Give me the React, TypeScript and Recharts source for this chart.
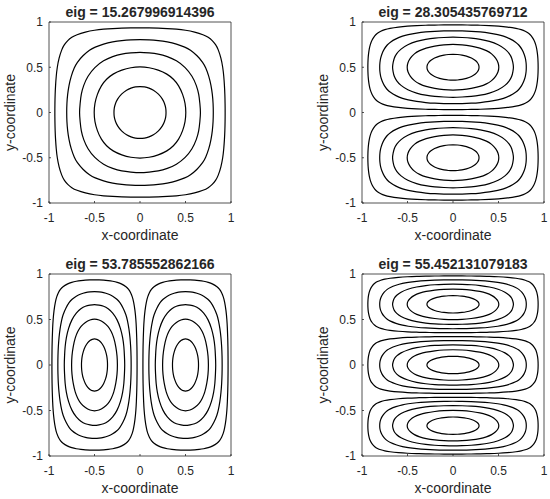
import { ScatterChart, Scatter, XAxis, YAxis } from 'recharts';

const INK = '#262626';
const FONT = '"Liberation Sans", Arial, Helvetica, sans-serif';

const TICKS = [-1, -0.5, 0, 0.5, 1];

const TITLES = [
  'eig = 15.267996914396',
  'eig = 28.305435769712',
  'eig = 53.785552862166',
  'eig = 55.452131079183',
];

// One quarter of each contour ring, inside one cell: 0 = cell centre, 1 = cell edge.
// Every cell in every panel shows the same five rings.
const RING_1 = [[0, 0.287], [0.05, 0.284], [0.1, 0.27], [0.145, 0.25], [0.205, 0.205], [0.25, 0.145], [0.27, 0.1], [0.284, 0.05], [0.287, 0]];
const RING_2 = [[0, 0.506], [0.1, 0.498], [0.2, 0.471], [0.3, 0.426], [0.369, 0.369], [0.426, 0.3], [0.471, 0.2], [0.498, 0.1], [0.506, 0]];
const RING_3 = [[0, 0.667], [0.1, 0.658], [0.2, 0.648], [0.3, 0.621], [0.4, 0.576], [0.5, 0.5], [0.576, 0.4], [0.621, 0.3], [0.648, 0.2], [0.658, 0.1], [0.667, 0]];
const RING_4 = [[0, 0.806], [0.1, 0.804], [0.2, 0.796], [0.3, 0.781], [0.4, 0.758], [0.5, 0.721], [0.55, 0.694], [0.629, 0.629], [0.694, 0.55], [0.721, 0.5], [0.758, 0.4], [0.781, 0.3], [0.796, 0.2], [0.804, 0.1], [0.806, 0]];
const RING_5 = [[0, 0.936], [0.1, 0.935], [0.2, 0.933], [0.3, 0.928], [0.4, 0.921], [0.5, 0.91], [0.6, 0.891], [0.7, 0.859], [0.75, 0.832], [0.795, 0.795], [0.832, 0.75], [0.859, 0.7], [0.891, 0.6], [0.91, 0.5], [0.921, 0.4], [0.928, 0.3], [0.933, 0.2], [0.935, 0.1], [0.936, 0]];
const RINGS = [RING_1, RING_2, RING_3, RING_4, RING_5];

// cell centres (x, y) per panel
const CELLS_1 = [[0, 0]];
const CELLS_2 = [[0, 0.5], [0, -0.5]];
const CELLS_3 = [[-0.5, 0], [0.5, 0]];
const CELLS_4 = [[0, 0.667], [0, 0], [0, -0.667]];

// cell half width, half height per panel
const HALF_1 = [1, 1];
const HALF_2 = [1, 0.5];
const HALF_3 = [0.5, 1];
const HALF_4 = [1, 0.3333];

const PANELS = [
  { title: TITLES[0], cells: CELLS_1, half: HALF_1, left: 0, top: 0, margin: { top: 21, right: 43, bottom: 10, left: 9 } },
  { title: TITLES[1], cells: CELLS_2, half: HALF_2, left: 275, top: 0, margin: { top: 21, right: 5, bottom: 10, left: 47 } },
  { title: TITLES[2], cells: CELLS_3, half: HALF_3, left: 0, top: 249, margin: { top: 24, right: 43, bottom: 6, left: 9 } },
  { title: TITLES[3], cells: CELLS_4, half: HALF_4, left: 275, top: 249, margin: { top: 24, right: 5, bottom: 6, left: 47 } },
];

const axisLine = { stroke: INK, strokeWidth: 0.8 };
const tickLine = { stroke: INK, strokeWidth: 0.8 };

// quarter -> full closed ring by mirroring about both cell axes
function fullRing(quarter: number[][]) {
  const q1 = quarter;
  const q4 = [...quarter].reverse().slice(1).map(([u, v]) => [u, -v]);
  const q3 = quarter.slice(1).map(([u, v]) => [-u, -v]);
  const q2 = [...quarter].reverse().slice(1, -1).map(([u, v]) => [-u, v]);
  return [...q1, ...q4, ...q3, ...q2];
}

const TitleLabel = (props: any) => {
  const { viewBox, value } = props;
  return (
    <text x={viewBox.x + viewBox.width / 2} y={viewBox.y + viewBox.height - 5} textAnchor="middle" fontSize={14} fontWeight="bold" fill={INK}>
      {value}
    </text>
  );
};

const XLabel = (props: any) => {
  const { viewBox, value } = props;
  return (
    <text x={viewBox.x + viewBox.width / 2} y={viewBox.y + 37} textAnchor="middle" fontSize={14} fill={INK}>
      {value}
    </text>
  );
};

const YLabel = (props: any) => {
  const { viewBox, value } = props;
  const x = viewBox.x + 6;
  const y = viewBox.y + viewBox.height / 2;
  return (
    <text x={x} y={y} transform={`rotate(-90 ${x} ${y})`} textAnchor="middle" fontSize={14} fill={INK}>
      {value}
    </text>
  );
};

interface PanelProps {
  title: string;
  cells: number[][];
  half: number[];
  margin: { top: number; right: number; bottom: number; left: number };
}

function ContourPanel({ title, cells, half, margin }: PanelProps) {
  const rings = cells.flatMap(([cx, cy]) =>
    RINGS.map(q => fullRing(q).map(([u, v]) => ({ x: cx + u * half[0], y: cy + v * half[1] })))
  );

  return (
    <ScatterChart width={275} height={250} margin={margin}>
      <XAxis
        dataKey="x"
        type="number"
        domain={[-1, 1]}
        ticks={TICKS}
        allowDataOverflow
        height={37}
        tickSize={-2}
        tickMargin={12}
        axisLine={axisLine}
        tickLine={tickLine}
        tick={{ fontSize: 12, fill: INK }}
        label={{ value: 'x-coordinate', content: XLabel }}
      />
      <XAxis
        xAxisId="top"
        orientation="top"
        type="number"
        domain={[-1, 1]}
        ticks={TICKS}
        allowDataOverflow
        height={1}
        tickSize={-2}
        tick={false}
        axisLine={axisLine}
        tickLine={tickLine}
        label={{ value: title, content: TitleLabel }}
      />
      <YAxis
        dataKey="y"
        type="number"
        domain={[-1, 1]}
        ticks={TICKS}
        allowDataOverflow
        width={40}
        tickSize={-2}
        tickMargin={8}
        axisLine={axisLine}
        tickLine={tickLine}
        tick={{ fontSize: 12, fill: INK }}
        label={{ value: 'y-coordinate', content: YLabel }}
      />
      <YAxis
        yAxisId="right"
        orientation="right"
        type="number"
        domain={[-1, 1]}
        ticks={TICKS}
        allowDataOverflow
        width={1}
        tickSize={-2}
        tick={false}
        axisLine={axisLine}
        tickLine={tickLine}
      />
      {rings.map((pts, i) => (
        <Scatter
          key={i}
          data={pts}
          line={{ stroke: '#000', strokeWidth: 1.2 }}
          lineType="joint"
          lineJointType="basisClosed"
          shape={() => null}
          isAnimationActive={false}
        />
      ))}
    </ScatterChart>
  );
}

export default function App() {
  return (
    <div style={{ position: 'absolute', left: 0, top: 0, width: 550, height: 499, background: '#fff', fontFamily: FONT }}>
      {PANELS.map(p => (
        <div key={p.title} style={{ position: 'absolute', left: p.left, top: p.top }}>
          <ContourPanel title={p.title} cells={p.cells} half={p.half} margin={p.margin} />
        </div>
      ))}
    </div>
  );
}
